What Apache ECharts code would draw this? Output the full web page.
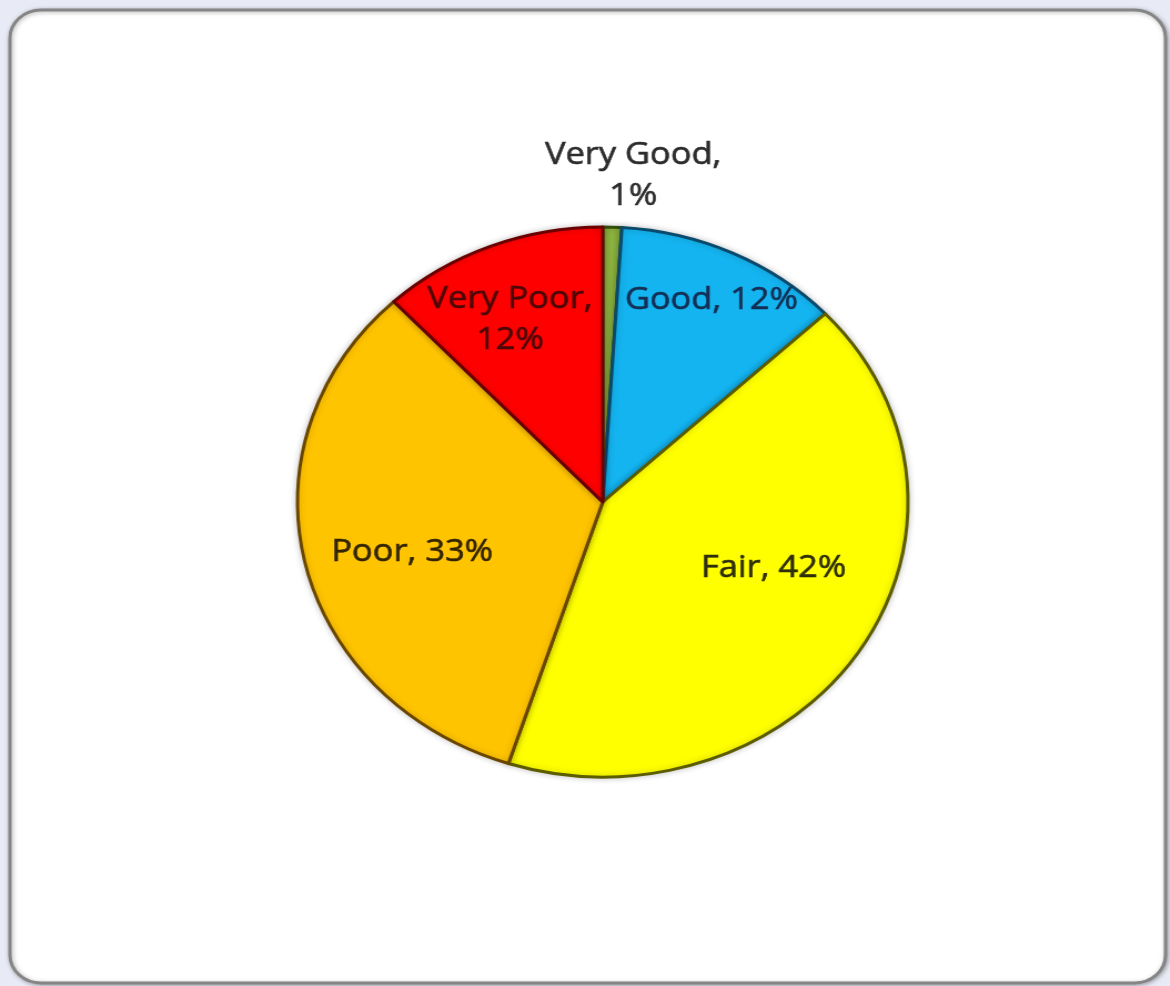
<!DOCTYPE html>
<html>
<head>
<meta charset="utf-8">
<title>Rating breakdown</title>
<script src="https://cdn.jsdelivr.net/npm/echarts@6/dist/echarts.min.js"></script>
<style>
  html, body { margin: 0; padding: 0; background: #e8ebf5; overflow: hidden; }
  /* the chart is laid out on a narrower canvas and widened to the window */
  #chart { width: 1054px; height: 986px; transform: scaleX(1.11); transform-origin: 0 0; }
</style>
</head>
<body>
<div id="chart"></div>
<script>
// Share of ratings, clockwise from 12 o'clock
const categories = ['Very Good', 'Good', 'Fair', 'Poor', 'Very Poor'];
const shares = [1, 12, 42, 33, 12];

const sliceColors  = ['#8db440', '#14b4f0', '#ffff00', '#ffc400', '#ff0000'];
const edgeColors   = ['#34500c', '#0a4a6c', '#5c5c00', '#6a4600', '#6a0000'];
const labelColors  = ['#2c2c2c', '#142f55', '#2e2e0a', '#332400', '#4e0606'];
// label placement: radius as a fraction of the pie radius, extra turn in degrees, line break
const labelRho   = [1.19, 0.815, 0.61, 0.65, 0.73];
const labelTurn  = [3, 0.7, -9, -3.6, -3];
const labelWrap  = [true, false, false, false, true];

const CX = 543, CY = 502, R = 275, START = 90;
const total = shares.reduce((a, b) => a + b, 0);

const chart = echarts.init(document.getElementById('chart'), null, { renderer: 'canvas' });

const data = categories.map((name, i) => ({
  name,
  value: shares[i],
  itemStyle: { color: sliceColors[i], borderColor: edgeColors[i] },
  label: { color: labelColors[i], textBorderColor: labelColors[i] }
}));

chart.setOption({
  animation: false,
  backgroundColor: '#e8ebf5',
  graphic: [{
    type: 'rect',
    z: -10,
    shape: { x: 9, y: 10, width: 1041, height: 973, r: 28 },
    style: { fill: '#ffffff', stroke: '#858585', lineWidth: 3,
             shadowColor: 'rgba(0,0,0,0.3)', shadowBlur: 4, shadowOffsetX: 1, shadowOffsetY: 1 }
  }],
  series: [{
    type: 'pie',
    center: [CX, CY],
    radius: R,
    startAngle: START,
    clockwise: true,
    avoidLabelOverlap: false,
    data,
    itemStyle: { borderWidth: 3, shadowColor: 'rgba(0,0,0,0.2)', shadowBlur: 6 },
    label: {
      show: true,
      position: 'inside',
      fontFamily: 'Open Sans',
      fontSize: 31,
      lineHeight: 41,
      textBorderWidth: 0.6,
      formatter: p => p.name + ',' + (labelWrap[p.dataIndex] ? '\n' : ' ') + p.value + '%'
    },
    labelLine: { show: false },
    labelLayout: params => {
      const i = params.dataIndex;
      let before = 0;
      for (let k = 0; k < i; k++) before += shares[k];
      const mid = (before + shares[i] / 2) / total * 360 + labelTurn[i];
      const a = (START - mid) * Math.PI / 180;
      const rho = labelRho[i] * R;
      return {
        x: CX + rho * Math.cos(a),
        y: CY - rho * Math.sin(a),
        align: 'center',
        verticalAlign: 'middle'
      };
    }
  }]
});
</script>
</body>
</html>
